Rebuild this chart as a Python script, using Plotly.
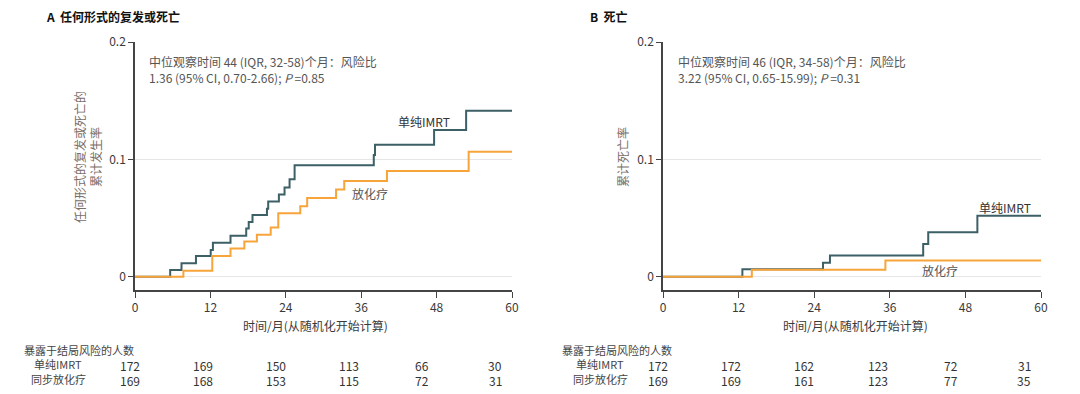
import plotly.graph_objects as go

# ---- data ----
months_ticks = [0, 12, 24, 36, 48, 60]
y_ticks = [0, 0.1, 0.2]
y_tick_labels = ["0", "0.1", "0.2"]

a_imrt_t = [0, 5.6, 7.4, 9.7, 12.05, 12.4, 15.2, 17.7, 18.1, 18.7, 21.0, 21.2, 22.9, 23.8, 24.6, 25.4, 38.0, 38.2, 47.6, 52.7, 60]
a_imrt_v = [0, 0.0057, 0.0114, 0.0176, 0.0227, 0.029, 0.035, 0.041, 0.0466, 0.0526, 0.058, 0.064, 0.070, 0.076, 0.083, 0.095, 0.1037, 0.1125, 0.125, 0.1415, 0.1415]
a_crt_t = [0, 7.7, 12.3, 15.2, 17.4, 19.4, 21.6, 22.8, 26.3, 27.4, 32.0, 33.3, 40.1, 53.1, 60]
a_crt_v = [0, 0.0051, 0.0176, 0.024, 0.030, 0.0358, 0.042, 0.054, 0.060, 0.067, 0.0744, 0.0815, 0.090, 0.1065, 0.1065]

b_imrt_t = [0, 12.6, 25.4, 26.5, 41.3, 42.1, 49.9, 60]
b_imrt_v = [0, 0.0063, 0.0119, 0.018, 0.0278, 0.0378, 0.052, 0.052]
b_crt_t = [0, 14.1, 35.3, 60]
b_crt_v = [0, 0.006, 0.0139, 0.0139]

a_risk_imrt = [172, 169, 150, 113, 66, 30]
a_risk_crt = [169, 168, 153, 115, 72, 31]
b_risk_imrt = [172, 172, 162, 123, 72, 31]
b_risk_crt = [169, 169, 161, 123, 77, 35]

title_a = "任何形式的复发或死亡"
title_b = "死亡"
ytitle_a = "任何形式的复发或死亡的<br>累计发生率"
ytitle_b = "累计死亡率"
xtitle = "时间/月(从随机化开始计算)"
note_a = "中位观察时间 44 (IQR, 32-58)个月：风险比<br>1.36 (95% CI, 0.70-2.66); <i>P</i> =0.85"
note_b = "中位观察时间 46 (IQR, 34-58)个月：风险比<br>3.22 (95% CI, 0.65-15.99); <i>P</i> =0.31"
risk_header = "暴露于结局风险的人数"
row_imrt = "单纯IMRT"
row_crt = "同步放化疗"
lab_imrt = "单纯IMRT"
lab_crt = "放化疗"

# ---- style ----
C_IMRT = "#3d5f66"
C_CRT = "#f7a43a"
TXT = "#3a3a3a"
FONT = "Noto Sans CJK SC, Noto Sans, sans-serif"
W, H = 1080, 394
OFF = 8  # page body margin in the browser
MT = 42 - OFF
MB = H - (290 - OFF)
dom_a = [(135 - OFF) / W, (512 - OFF) / W]
dom_b = [(663 - OFF) / W, (1041 - OFF) / W]

fig = go.Figure()
fig.add_trace(go.Scatter(x=a_imrt_t, y=a_imrt_v, mode="lines", line=dict(color=C_IMRT, width=2, shape="hv"), xaxis="x", yaxis="y", showlegend=False))
fig.add_trace(go.Scatter(x=a_crt_t, y=a_crt_v, mode="lines", line=dict(color=C_CRT, width=2, shape="hv"), xaxis="x", yaxis="y", showlegend=False))
fig.add_trace(go.Scatter(x=b_imrt_t, y=b_imrt_v, mode="lines", line=dict(color=C_IMRT, width=2, shape="hv"), xaxis="x2", yaxis="y2", showlegend=False))
fig.add_trace(go.Scatter(x=b_crt_t, y=b_crt_v, mode="lines", line=dict(color=C_CRT, width=2, shape="hv"), xaxis="x2", yaxis="y2", showlegend=False))

xax = dict(range=[0, 60], tickvals=months_ticks, showline=True, linecolor="#444", linewidth=1.5,
           ticks="outside", ticklen=6, tickcolor="#444", showgrid=False, zeroline=False,
           tickfont=dict(size=12, color=TXT, family=FONT))
yax = dict(range=[-0.0113, 0.2], tickvals=y_ticks, ticktext=y_tick_labels, showline=True, linecolor="#444",
           linewidth=1.5, ticks="outside", ticklen=5, tickcolor="#444", showgrid=True, gridcolor="#e6e6e6",
           gridwidth=1, zeroline=False, tickfont=dict(size=12, color=TXT, family=FONT), domain=[0, 1])

fig.update_layout(
    width=W, height=H, margin=dict(l=0, r=0, t=MT, b=MB, autoexpand=False),
    paper_bgcolor="white", plot_bgcolor="white", font=dict(family=FONT, color=TXT),
    xaxis=dict(xax, domain=dom_a, anchor="y", automargin=False),
    yaxis=dict(yax, anchor="x", automargin=False),
    xaxis2=dict(xax, domain=dom_b, anchor="y2", automargin=False),
    yaxis2=dict(yax, anchor="x2", automargin=False),
)

ann = []
def paper_x(px):
    return (px - OFF) / W
def paper_y(py):
    return 1 - (py - OFF - MT) / (H - MT - MB)

def A(text, px, py, size=12, color=TXT, xanchor="center", yanchor="middle", **kw):
    ann.append(dict(text=text, x=paper_x(px), y=paper_y(py), xref="paper", yref="paper",
                    xanchor=xanchor, yanchor=yanchor, showarrow=False,
                    font=dict(size=size, color=color, family=FONT), **kw))

# titles
A("<b>A</b>  <b>" + title_a + "</b>", 44, 17, color="#111", xanchor="left")
A("<b>B</b>  <b>" + title_b + "</b>", 588, 17, color="#111", xanchor="left")
# y titles
A(ytitle_a, 87, 157, color="#7a6e68", textangle=-90)
A(ytitle_b, 622, 157, color="#7a6e68", textangle=-90)
# x titles
A(xtitle, 315, 325, color=TXT)
A(xtitle, 855, 325, color=TXT)
# notes
A(note_a, 147, 51, color="#555", xanchor="left", yanchor="top", align="left")
A(note_b, 676, 51, color="#555", xanchor="left", yanchor="top", align="left")
# curve labels
A(lab_imrt, 424, 122, color="#333")
A(lab_crt, 370, 193, color="#555")
A(lab_imrt, 1005, 207, color="#333")
A(lab_crt, 940, 270, color="#555")

# risk table
for hdr_x, lbl_x in [(22, 58), (560, 600)]:
    A(risk_header, hdr_x, 350, size=11, color="#444", xanchor="left")
    A(row_imrt, lbl_x, 364, size=11, color="#444")
    A(row_crt, lbl_x, 379, size=11, color="#444")

for xr, r1, r2 in [("x", a_risk_imrt, a_risk_crt), ("x2", b_risk_imrt, b_risk_crt)]:
    for i, m in enumerate(months_ticks):
        shift = -5 - 2.4 * i
        for vals, py in [(r1, 365), (r2, 380)]:
            ann.append(dict(text=str(vals[i]), x=m, xref=xr, y=paper_y(py), yref="paper", xshift=shift,
                            xanchor="center", yanchor="middle", showarrow=False,
                            font=dict(size=12, color="#333", family=FONT)))

fig.update_layout(annotations=ann)
fig.write_html("out.html")
